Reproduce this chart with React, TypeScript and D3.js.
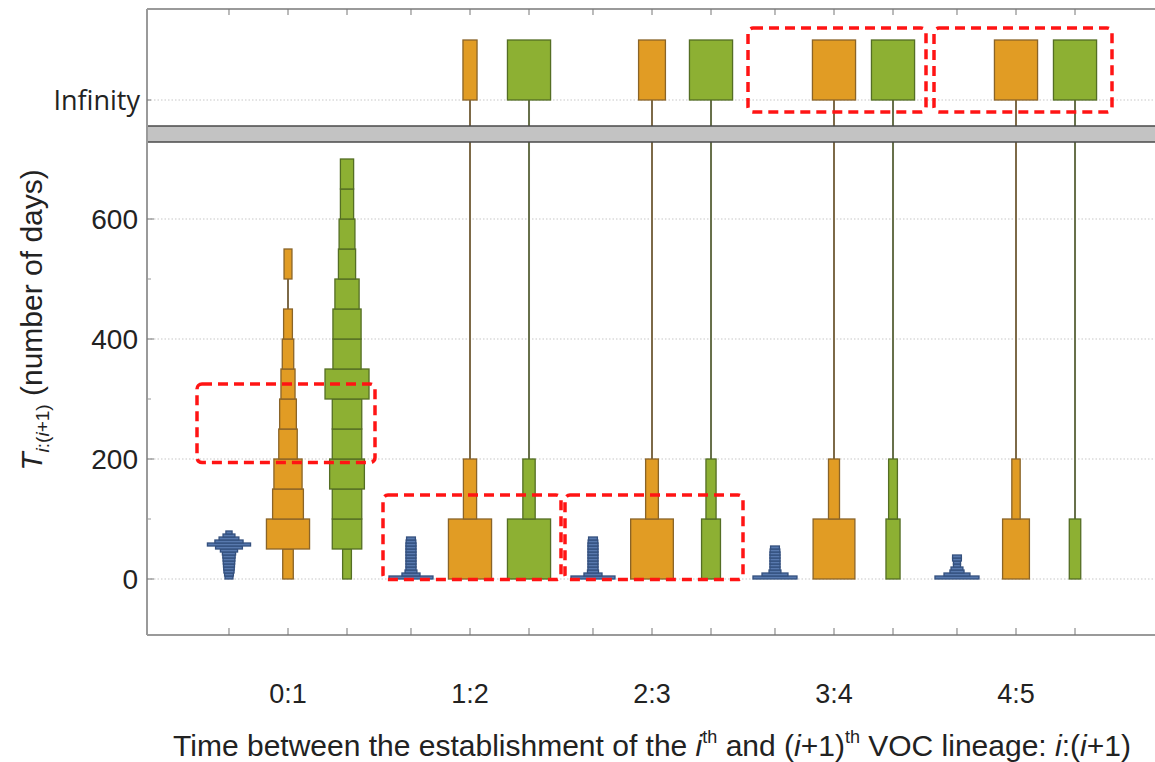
import React from 'react';
import * as d3 from 'd3';

const groups = ['0:1', '1:2', '2:3', '3:4', '4:5'];
const seriesKeys = ['blue', 'orange', 'green'];

// bin width in days for each group
const blueBinDays = [5, 5, 5, 5, 5];
const orangeBinDays = [50, 100, 100, 100, 100];
const greenBinDays = [50, 100, 100, 100, 100];

// relative density of each bin (percent of the widest bin), from 0 days upward
const blueDensity = [
  [18, 20, 23, 24, 25, 26, 27, 28, 30, 39, 61, 98, 64, 45, 27, 14],
  [100, 41, 27, 23, 23, 23, 23, 23, 23, 23, 23, 23, 22, 20],
  [100, 41, 25, 23, 23, 23, 23, 23, 23, 23, 23, 23, 22, 20],
  [100, 59, 27, 23, 23, 23, 23, 23, 23, 22, 20],
  [100, 59, 32, 27, 16, 16, 20, 20],
];
const orangeDensity = [
  [24, 98, 70, 64, 42, 38, 32, 26, 20, 0, 18],
  [98, 30],
  [97, 29],
  [95, 25],
  [61, 19],
];
const greenDensity = [
  [20, 67, 67, 79, 67, 67, 100, 64, 64, 55, 39, 36, 30, 30],
  [98, 28],
  [43, 23],
  [32, 20],
  [26, 0],
];
// density of the "never established" bin drawn at Infinity
const blueInfinity = [0, 0, 0, 0, 0];
const orangeInfinity = [0, 32, 61, 98, 98];
const greenInfinity = [0, 98, 98, 98, 98];

const yTicks = [0, 200, 400, 600];
const yMinorTicks = [100, 300, 500];

// red dashed highlight boxes: group, pane, value range, small x shift
const highlights = [
  { group: 0, pane: 'low', from: 194, to: 325, dx: -2 },
  { group: 1, pane: 'low', from: -1, to: 140, dx: 2 },
  { group: 2, pane: 'low', from: -1, to: 140, dx: 2 },
  { group: 3, pane: 'inf', from: -20, to: 120, dx: 3 },
  { group: 4, pane: 'inf', from: -20, to: 120, dx: 7 },
];

const styles: Record<string, { fill: string; edge: string; line: string }> = {
  blue: { fill: '#5879ae', edge: '#34507e', line: '#4a5f80' },
  orange: { fill: '#e19c24', edge: '#8a6428', line: '#7d6a48' },
  green: { fill: '#8db033', edge: '#546e24', line: '#67704a' },
};

const W = 1155;
const H = 762;
const left = 147;
const right = 1157;
const top = 9;
const bottom = 635;
const breakTop = 126;
const breakBottom = 142;
const FONT = '"Liberation Sans", Arial, sans-serif';

const App = () => {
  const xGroup = d3.scaleBand().domain(groups).range([197, 1107]);
  const xSeries = d3
    .scalePoint()
    .domain(seriesKeys)
    .range([0, xGroup.bandwidth()])
    .padding(0.542);
  const yLow = d3.scaleLinear().domain([0, 600]).range([579, 219]);
  const yInf = d3.scaleLinear().domain([0, 100]).range([100, 40]);
  const wScale = d3.scaleLinear().domain([0, 100]).range([0, 44]);

  const table: Record<string, { dens: number[][]; step: number[]; inf: number[] }> = {
    blue: { dens: blueDensity, step: blueBinDays, inf: blueInfinity },
    orange: { dens: orangeDensity, step: orangeBinDays, inf: orangeInfinity },
    green: { dens: greenDensity, step: greenBinDays, inf: greenInfinity },
  };

  const lines: JSX.Element[] = [];
  const boxes: JSX.Element[] = [];
  const positions: number[] = [];

  groups.forEach((g, gi) => {
    seriesKeys.forEach((s) => {
      const cx = (xGroup(g) as number) + (xSeries(s) as number);
      positions.push(cx);
      const st = styles[s];
      const dens = table[s].dens[gi];
      const step = table[s].step[gi];
      const inf = table[s].inf[gi];
      let lastTop = 0;
      dens.forEach((d, i) => {
        if (d > 0) lastTop = (i + 1) * step;
      });
      const yEnd = inf > 0 ? yInf(0) : yLow(lastTop);
      lines.push(
        <line key={`l${g}${s}`} x1={cx} x2={cx} y1={yLow(0)} y2={yEnd}
          stroke={st.line} strokeWidth={2} />
      );
      dens.forEach((d, i) => {
        if (d <= 0) return;
        const w = wScale(d);
        boxes.push(
          <rect key={`b${g}${s}${i}`} x={cx - w / 2} y={yLow((i + 1) * step)}
            width={w} height={yLow(i * step) - yLow((i + 1) * step)}
            fill={st.fill} stroke={st.edge} strokeWidth={1.3} />
        );
      });
      if (inf > 0) {
        const w = wScale(inf);
        boxes.push(
          <rect key={`i${g}${s}`} x={cx - w / 2} y={yInf(100)} width={w}
            height={yInf(0) - yInf(100)} fill={st.fill} stroke={st.edge} strokeWidth={1.3} />
        );
      }
    });
  });

  return (
    <svg width={W} height={H} style={{ position: 'absolute', left: 0, top: 0, background: '#fff' }}
      fontFamily={FONT}>
      {/* grid */}
      {yTicks.map((t) => (
        <line key={`g${t}`} x1={left} x2={right} y1={yLow(t)} y2={yLow(t)}
          stroke="#c8c8c8" strokeWidth={1.2} strokeDasharray="1.5,2" />
      ))}
      <line x1={left} x2={right} y1={yInf(0)} y2={yInf(0)}
        stroke="#c8c8c8" strokeWidth={1.2} strokeDasharray="1.5,2" />

      {lines}

      {/* axis break */}
      <rect x={left} y={breakTop} width={right - left} height={breakBottom - breakTop}
        fill="#c3c3c3" stroke="#4a4a4a" strokeWidth={1.5} />

      {boxes}

      {/* frame */}
      <line x1={left} x2={left} y1={top} y2={bottom} stroke="#9a9a9a" strokeWidth={2} />
      <line x1={left} x2={right} y1={bottom} y2={bottom} stroke="#9a9a9a" strokeWidth={2} />
      <line x1={left} x2={right} y1={top} y2={top} stroke="#9a9a9a" strokeWidth={2} />
      {positions.map((p, i) => (
        <g key={`t${i}`}>
          <line x1={p} x2={p} y1={bottom} y2={bottom - 7} stroke="#777" strokeWidth={1} />
          <line x1={p} x2={p} y1={top} y2={top + 6} stroke="#777" strokeWidth={1} />
        </g>
      ))}
      {yTicks.map((t) => (
        <line key={`yt${t}`} x1={left} x2={left + 7} y1={yLow(t)} y2={yLow(t)} stroke="#777" />
      ))}
      {yMinorTicks.map((t) => (
        <line key={`ym${t}`} x1={left} x2={left + 4} y1={yLow(t)} y2={yLow(t)} stroke="#999" />
      ))}
      <line x1={left} x2={left + 4} y1={yInf(0)} y2={yInf(0)} stroke="#777" />

      {/* highlights */}
      {highlights.map((h, i) => {
        const cx = (xGroup(groups[h.group]) as number) + xGroup.bandwidth() / 2 + h.dx;
        const sc = h.pane === 'low' ? yLow : yInf;
        const y0 = sc(h.to);
        const y1 = sc(h.from);
        return (
          <rect key={`h${i}`} x={cx - 89} y={y0} width={178} height={y1 - y0} rx={5}
            fill="none" stroke="#ff1414" strokeWidth={3.5} strokeDasharray="10,6" />
        );
      })}

      {/* tick labels */}
      {yTicks.map((t) => (
        <text key={`yl${t}`} x={138} y={yLow(t)} dy="0.36em" textAnchor="end"
          fontSize={28} fill="#222">{t}</text>
      ))}
      <text x={140} y={yInf(0)} dy="0.36em" textAnchor="end" fontSize={27}
        fontFamily='"Open Sans", sans-serif' fill="#222">Infinity</text>
      {groups.map((g) => (
        <text key={`xl${g}`} x={(xGroup(g) as number) + xGroup.bandwidth() / 2} y={703}
          textAnchor="middle" fontSize={27} fill="#222">{g}</text>
      ))}

      {/* axis titles */}
      <text x={652} y={756} textAnchor="middle" fontSize={30} fill="#222">
        Time between the establishment of the <tspan fontStyle="italic">i</tspan>
        <tspan fontSize={18} dy={-13}>th</tspan>
        <tspan dy={13}> and (</tspan><tspan fontStyle="italic">i</tspan>+1)
        <tspan fontSize={18} dy={-13}>th</tspan>
        <tspan dy={13}> VOC lineage: </tspan><tspan fontStyle="italic">i</tspan>:(
        <tspan fontStyle="italic">i</tspan>+1)
      </text>
      <text transform="translate(42,320) rotate(-90)" textAnchor="middle" fontSize={30} fill="#222">
        <tspan fontStyle="italic">T</tspan>
        <tspan fontSize={19} dy={7} fontStyle="italic">i</tspan>
        <tspan fontSize={19}>:(</tspan>
        <tspan fontSize={19} fontStyle="italic">i</tspan>
        <tspan fontSize={19}>+1)</tspan>
        <tspan dy={-7}> (number of days)</tspan>
      </text>
    </svg>
  );
};

export default App;
